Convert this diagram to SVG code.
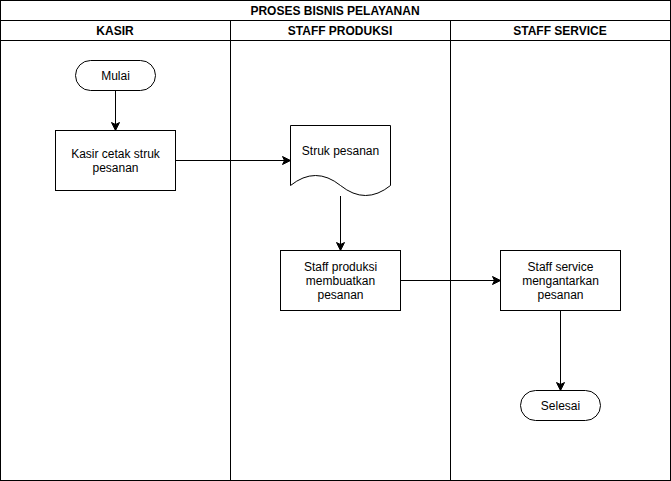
<svg xmlns="http://www.w3.org/2000/svg" width="671" height="481" viewBox="0 0 671 481">
<style>
  .ln{fill:none;stroke:#000;stroke-width:1}
  .box{fill:#fff;stroke:#000;stroke-width:1}
  .t{font-family:"Liberation Sans",Arial,sans-serif;font-size:12px;fill:#000;text-anchor:middle}
  .h{font-family:"Liberation Sans",Arial,sans-serif;font-size:12px;font-weight:bold;fill:#000;text-anchor:middle}
  .c{fill:none;stroke:#000;stroke-width:1;marker-end:url(#arr)}
</style>
<defs>
  <marker id="arr" markerUnits="userSpaceOnUse" markerWidth="10" markerHeight="10" viewBox="0 0 10 10" refX="9" refY="5" orient="auto">
    <path d="M1,1 L9,5 L1,9 L3,5 Z" fill="#000" stroke="#000" stroke-width="1"/>
  </marker>
</defs>
<rect x="0" y="0" width="671" height="481" fill="#fff"/>
<g id="pool">
  <rect class="ln" x="0.5" y="0.5" width="670" height="480"/>
  <line class="ln" x1="0.5" y1="20.5" x2="670.5" y2="20.5"/>
  <line class="ln" x1="0.5" y1="40.5" x2="670.5" y2="40.5"/>
  <line class="ln" x1="230.5" y1="20.5" x2="230.5" y2="480.5"/>
  <line class="ln" x1="450.5" y1="20.5" x2="450.5" y2="480.5"/>
  <text class="h" x="335" y="14.5">PROSES BISNIS PELAYANAN</text>
  <text class="h" x="115" y="34.5">KASIR</text>
  <text class="h" x="340" y="34.5">STAFF PRODUKSI</text>
  <text class="h" x="560" y="34.5">STAFF SERVICE</text>
</g>
<g id="connectors">
  <line class="c" x1="115.5" y1="90.5" x2="115.5" y2="130.5"/>
  <line class="c" x1="175.5" y1="160.5" x2="290.5" y2="160.5"/>
  <line class="c" x1="340.5" y1="196" x2="340.5" y2="250.5"/>
  <line class="c" x1="400.5" y1="280.5" x2="500.5" y2="280.5"/>
  <line class="c" x1="560.5" y1="310.5" x2="560.5" y2="390.5"/>
</g>
<g id="mulai">
  <rect class="box" x="75.5" y="60.5" width="80" height="30" rx="15" ry="15"/>
  <text class="t" x="115.5" y="79.5">Mulai</text>
</g>
<g id="kasir-cetak">
  <rect class="box" x="55.5" y="130.5" width="120" height="60"/>
  <text class="t" x="115.5" y="157.5">Kasir cetak struk</text>
  <text class="t" x="115.5" y="171.5">pesanan</text>
</g>
<g id="struk">
  <path class="box" d="M290.5,125.5 H390.5 V185.5 Q365.5,205.5 340.5,185.5 Q315.5,165.5 290.5,185.5 Z"/>
  <text class="t" x="340.5" y="154.5">Struk pesanan</text>
</g>
<g id="staff-produksi">
  <rect class="box" x="280.5" y="250.5" width="120" height="60"/>
  <text class="t" x="340.5" y="270.5">Staff produksi</text>
  <text class="t" x="340.5" y="284.5">membuatkan</text>
  <text class="t" x="340.5" y="298.5">pesanan</text>
</g>
<g id="staff-service">
  <rect class="box" x="500.5" y="250.5" width="120" height="60"/>
  <text class="t" x="560.5" y="270.5">Staff service</text>
  <text class="t" x="560.5" y="284.5">mengantarkan</text>
  <text class="t" x="560.5" y="298.5">pesanan</text>
</g>
<g id="selesai">
  <rect class="box" x="520.5" y="390.5" width="80" height="30" rx="15" ry="15"/>
  <text class="t" x="560.5" y="409.5">Selesai</text>
</g>
</svg>
